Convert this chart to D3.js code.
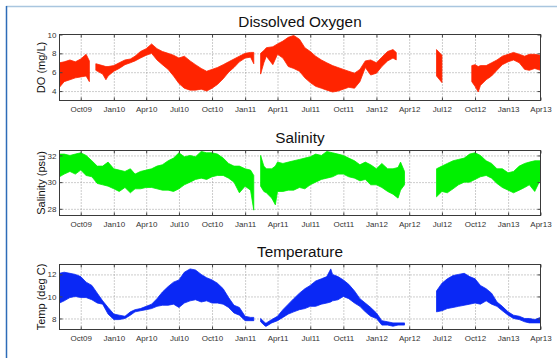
<!DOCTYPE html>
<html>
<head>
<meta charset="utf-8">
<script src="https://cdn.jsdelivr.net/npm/d3@7"></script>
<style>
  body { margin: 0; background: #fff; }
  svg { display: block; }
  text { font-family: "Liberation Sans", Arial, Helvetica, sans-serif; }
</style>
</head>
<body>
<svg id="chart" width="557" height="358"></svg>
<script>
// x ticks (shared by all three panels)
const tickDates = ['2009-10-01', '2010-01-01', '2010-04-01', '2010-07-01', '2010-10-01', '2011-01-01',
  '2011-04-01', '2011-07-01', '2011-10-01', '2012-01-01', '2012-04-01', '2012-07-01',
  '2012-10-01', '2013-01-01', '2013-04-01'];
const tickLabels = ['Oct09', 'Jan10', 'Apr10', 'Jul10', 'Oct10', 'Jan11', 'Apr11', 'Jul11',
  'Oct11', 'Jan12', 'Apr12', 'Jul12', 'Oct12', 'Jan13', 'Apr13'];

// [date, low, high] envelopes, null = no data
const oxygen = [
  ['2009-08-03', 4.4, 7.0], ['2009-08-16', 5.0, 7.1], ['2009-09-01', 5.2, 7.3], ['2009-09-16', 5.4, 7.1],
  ['2009-10-01', 5.5, 7.4], ['2009-10-16', 5.6, 7.9], ['2009-10-25', 5.0, 7.2], ['2009-11-01', null, null],
  ['2009-11-12', 6.2, 6.9], ['2009-12-01', 5.8, 6.7], ['2009-12-10', 5.2, 6.6], ['2009-12-16', 5.6, 6.6],
  ['2010-01-01', 6.1, 6.7], ['2010-01-16', 6.4, 7.0], ['2010-02-01', 6.8, 7.3], ['2010-02-16', 7.0, 7.4],
  ['2010-03-01', 7.2, 7.7], ['2010-03-16', 7.5, 8.2], ['2010-04-01', 7.8, 8.5], ['2010-04-16', 8.0, 9.0],
  ['2010-05-01', 7.3, 8.5], ['2010-05-16', 6.8, 8.2], ['2010-06-01', 6.3, 8.0], ['2010-06-16', 5.6, 7.8],
  ['2010-07-01', 4.8, 7.5], ['2010-07-16', 4.3, 7.7], ['2010-08-01', 4.1, 7.2], ['2010-08-16', 4.1, 6.8],
  ['2010-09-01', 4.2, 6.4], ['2010-09-16', 4.0, 6.1], ['2010-10-01', 4.3, 6.3], ['2010-10-16', 4.7, 6.5],
  ['2010-11-01', 5.3, 6.8], ['2010-11-16', 6.0, 7.1], ['2010-12-01', 6.5, 7.4], ['2010-12-16', 7.1, 7.7],
  ['2011-01-01', 7.5, 8.0], ['2011-01-16', 7.6, 8.1], ['2011-01-25', 6.9, 8.1], ['2011-02-03', null, null],
  ['2011-02-13', 5.8, 8.0], ['2011-02-22', 7.0, 8.3], ['2011-03-01', 7.7, 8.6], ['2011-03-19', 6.8, 8.7],
  ['2011-04-01', 7.9, 9.0], ['2011-04-16', 7.5, 9.3], ['2011-05-01', 6.6, 9.7], ['2011-05-16', 6.4, 9.9],
  ['2011-06-01', 6.1, 9.5], ['2011-06-16', 5.4, 8.6], ['2011-07-01', 4.9, 8.2], ['2011-07-16', 4.5, 7.7],
  ['2011-08-01', 4.3, 7.3], ['2011-08-16', 4.1, 7.0], ['2011-09-01', 3.9, 6.7], ['2011-09-16', 4.0, 6.5],
  ['2011-10-01', 4.2, 6.3], ['2011-10-16', 4.4, 6.1], ['2011-11-01', 4.3, 5.9], ['2011-11-16', 5.0, 6.3],
  ['2011-12-01', 6.5, 7.2], ['2011-12-16', 5.7, 7.3], ['2012-01-01', 5.9, 7.0], ['2012-01-16', 6.6, 7.6],
  ['2012-02-01', 7.2, 8.2], ['2012-02-16', 7.5, 8.4], ['2012-02-25', 7.3, 8.1], ['2012-03-10', null, null],
  ['2012-06-16', 5.6, 8.4], ['2012-07-01', 4.9, 7.8], ['2012-07-10', null, null],
  ['2012-09-22', 5.0, 6.7], ['2012-10-01', 4.5, 6.8], ['2012-10-10', 3.9, 6.6], ['2012-10-16', 4.6, 6.7],
  ['2012-11-01', 5.2, 6.7], ['2012-11-16', 5.6, 7.0], ['2012-12-01', 6.2, 7.3], ['2012-12-16', 6.8, 7.7],
  ['2013-01-01', 7.1, 7.9], ['2013-01-16', 7.3, 8.1], ['2013-02-01', 7.0, 7.9], ['2013-02-16', 6.3, 7.7],
  ['2013-03-01', 6.2, 7.9], ['2013-03-16', 6.4, 7.9], ['2013-04-01', 6.2, 7.8]
];

const salinity = [
  ['2009-08-03', 30.4, 32.1], ['2009-08-16', 30.6, 32.1], ['2009-09-01', 30.8, 32.0], ['2009-09-16', 30.6, 32.1],
  ['2009-10-01', 30.9, 32.2], ['2009-10-16', 30.5, 32.0], ['2009-11-01', 30.4, 31.6], ['2009-11-16', 29.9, 31.2],
  ['2009-12-01', 29.8, 31.2], ['2009-12-16', 29.7, 31.5], ['2010-01-01', 29.5, 31.0], ['2010-01-16', 29.3, 30.9],
  ['2010-02-01', 29.6, 30.8], ['2010-02-16', 29.2, 31.0], ['2010-03-01', 29.5, 30.6], ['2010-03-16', 29.5, 30.8],
  ['2010-04-01', 29.6, 30.9], ['2010-04-16', 29.6, 31.0], ['2010-05-01', 29.5, 31.2], ['2010-05-16', 29.4, 31.3],
  ['2010-06-01', 29.4, 31.6], ['2010-06-16', 29.3, 31.8], ['2010-07-01', 29.5, 32.2], ['2010-07-16', 29.8, 31.9],
  ['2010-08-01', 30.0, 32.0], ['2010-08-16', 30.2, 31.9], ['2010-09-01', 30.3, 32.3], ['2010-09-16', 30.2, 32.2],
  ['2010-10-01', 30.4, 32.2], ['2010-10-16', 30.5, 32.1], ['2010-11-01', 30.5, 31.8], ['2010-11-16', 30.3, 31.4],
  ['2010-12-01', 30.0, 31.2], ['2010-12-16', 29.2, 31.2], ['2011-01-01', 29.7, 31.0], ['2011-01-16', 29.4, 30.9],
  ['2011-01-25', 27.9, 30.5], ['2011-02-03', null, null],
  ['2011-02-13', 29.7, 32.0], ['2011-02-22', 29.3, 31.2], ['2011-03-01', 29.2, 31.0], ['2011-03-16', 28.8, 31.0],
  ['2011-03-26', 28.3, 31.2], ['2011-04-01', 29.3, 31.5], ['2011-04-16', 29.3, 31.4], ['2011-05-01', 29.4, 31.5],
  ['2011-05-16', 29.4, 31.6], ['2011-06-01', 29.6, 31.7], ['2011-06-16', 29.5, 31.8], ['2011-07-01', 29.8, 31.9],
  ['2011-07-16', 30.0, 32.1], ['2011-08-01', 30.2, 32.0], ['2011-08-16', 30.3, 32.3], ['2011-09-01', 30.4, 32.2],
  ['2011-09-16', 30.6, 32.1], ['2011-10-01', 30.6, 32.0], ['2011-10-16', 30.4, 31.8], ['2011-11-01', 30.3, 31.6],
  ['2011-11-16', 30.1, 31.3], ['2011-12-01', 30.2, 31.5], ['2011-12-16', 29.8, 31.3], ['2012-01-01', 29.8, 31.0],
  ['2012-01-16', 29.6, 31.4], ['2012-02-01', 29.3, 31.0], ['2012-02-16', 29.1, 31.0], ['2012-03-01', 28.8, 31.1],
  ['2012-03-08', 29.4, 31.5], ['2012-03-19', 29.8, 30.8], ['2012-04-01', null, null],
  ['2012-06-16', 28.9, 31.0], ['2012-07-01', 29.3, 31.2], ['2012-07-16', 29.2, 31.4], ['2012-08-01', 29.5, 31.6],
  ['2012-08-16', 29.8, 31.7], ['2012-09-01', 30.0, 31.8], ['2012-09-16', 30.0, 32.1], ['2012-10-01', 30.2, 32.2],
  ['2012-10-16', 30.4, 32.0], ['2012-11-01', 30.5, 31.6], ['2012-11-16', 30.3, 31.4], ['2012-12-01', 29.9, 31.0],
  ['2012-12-16', 29.6, 31.0], ['2013-01-01', 29.4, 30.7], ['2013-01-16', 29.2, 30.8], ['2013-02-01', 29.4, 31.2],
  ['2013-02-16', 29.6, 31.4], ['2013-03-01', 29.8, 31.5], ['2013-03-16', 29.3, 31.6], ['2013-04-01', 30.2, 31.6]
];

const temperature = [
  ['2009-08-03', 9.4, 12.1], ['2009-08-16', 9.6, 12.2], ['2009-09-01', 9.9, 12.1], ['2009-09-16', 10.0, 12.0],
  ['2009-10-01', 9.9, 11.8], ['2009-10-16', 9.9, 11.3], ['2009-11-01', 9.7, 11.0], ['2009-11-16', 9.4, 10.3],
  ['2009-12-01', 9.3, 9.6], ['2009-12-16', 8.4, 9.0], ['2010-01-01', 7.9, 8.4], ['2010-01-16', 7.9, 8.3],
  ['2010-02-01', 8.0, 8.2], ['2010-02-16', 8.3, 8.6], ['2010-03-01', 8.6, 8.8], ['2010-03-16', 8.7, 8.9],
  ['2010-04-01', 8.8, 9.1], ['2010-04-16', 8.9, 9.3], ['2010-05-01', 9.1, 9.8], ['2010-05-16', 9.2, 10.4],
  ['2010-06-01', 9.2, 10.9], ['2010-06-16', 9.3, 11.3], ['2010-07-01', 9.0, 11.5], ['2010-07-16', 9.4, 12.2],
  ['2010-08-01', 9.6, 12.5], ['2010-08-16', 9.7, 12.4], ['2010-09-01', 9.5, 12.0], ['2010-09-16', 9.6, 11.7],
  ['2010-10-01', 9.4, 11.5], ['2010-10-16', 9.4, 11.2], ['2010-11-01', 9.3, 10.7], ['2010-11-16', 9.0, 9.9],
  ['2010-12-01', 8.5, 9.2], ['2010-12-16', 8.3, 9.0], ['2011-01-01', 7.8, 8.2], ['2011-01-16', 7.8, 8.1],
  ['2011-01-25', 7.8, 8.1], ['2011-02-03', null, null],
  ['2011-02-13', 7.7, 8.0], ['2011-02-26', 7.3, 7.6], ['2011-03-01', 7.3, 7.6], ['2011-03-16', 7.6, 7.9],
  ['2011-04-01', 7.8, 8.2], ['2011-04-16', 8.1, 8.8], ['2011-05-01', 8.4, 9.3], ['2011-05-16', 8.6, 9.8],
  ['2011-06-01', 8.8, 10.3], ['2011-06-16', 8.9, 10.7], ['2011-07-01', 9.1, 11.0], ['2011-07-16', 9.1, 11.4],
  ['2011-08-01', 9.3, 11.6], ['2011-08-16', 9.4, 11.8], ['2011-08-27', 9.5, 12.5], ['2011-09-01', 9.6, 12.0],
  ['2011-09-16', 9.7, 11.8], ['2011-10-01', 10.0, 11.5], ['2011-10-16', 9.8, 11.1], ['2011-11-01', 9.4, 10.5],
  ['2011-11-16', 9.1, 9.8], ['2011-12-01', 8.6, 9.4], ['2011-12-16', 8.2, 9.0], ['2012-01-01', 8.0, 8.5],
  ['2012-01-16', 7.4, 7.8], ['2012-02-01', 7.4, 7.7], ['2012-02-16', 7.3, 7.6], ['2012-03-01', 7.4, 7.6],
  ['2012-03-19', 7.4, 7.6], ['2012-04-01', null, null],
  ['2012-06-16', 8.6, 10.5], ['2012-07-01', 8.7, 11.2], ['2012-07-16', 8.9, 11.6], ['2012-08-01', 9.0, 11.9],
  ['2012-08-16', 9.1, 12.0], ['2012-09-01', 9.2, 12.1], ['2012-09-16', 9.3, 11.8], ['2012-10-01', 9.4, 11.6],
  ['2012-10-16', 9.3, 11.0], ['2012-11-01', 9.6, 10.7], ['2012-11-16', 9.3, 10.3], ['2012-12-01', 9.1, 9.5],
  ['2012-12-16', 8.7, 9.1], ['2013-01-01', 8.3, 8.6], ['2013-01-16', 8.0, 8.3], ['2013-02-01', 7.9, 8.2],
  ['2013-02-16', 7.7, 8.0], ['2013-03-01', 7.6, 8.0], ['2013-03-16', 7.6, 7.9], ['2013-04-01', 7.6, 8.1]
];

const parse = d3.timeParse('%Y-%m-%d');
const svg = d3.select('#chart');

// page frame
svg.append('line').attr('x1', 6).attr('x2', 557).attr('y1', 6.5).attr('y2', 6.5)
  .attr('stroke', '#a9c6df').attr('stroke-width', 1.5);
svg.append('line').attr('x1', 6.5).attr('x2', 6.5).attr('y1', 6).attr('y2', 358)
  .attr('stroke', '#2d6cb8').attr('stroke-width', 1.5);

const left = 59.5, right = 540.5;
const x = d3.scaleTime()
  .domain([parse('2009-08-03'), parse('2013-04-01')])
  .range([left, right]);
const ticks = tickDates.map(parse);

const panels = [
  { title: 'Dissolved Oxygen', label: 'DO (mg/L)', rows: oxygen, color: '#ff2400',
    domain: [3, 10], yticks: [4, 6, 8, 10], top: 34.5, bottom: 100.5 },
  { title: 'Salinity', label: 'Salinity (psu)', rows: salinity, color: '#00f000',
    domain: [27.5, 32.37], yticks: [28, 30, 32], top: 150.5, bottom: 215.5 },
  { title: 'Temperature', label: 'Temp (deg C)', rows: temperature, color: '#0a28f5',
    domain: [7, 12.9], yticks: [8, 10, 12], top: 264.5, bottom: 329.5 }
];

panels.forEach(function (p, i) {
  let height = p.bottom - p.top;
  let y = d3.scaleLinear().domain(p.domain).range([p.bottom, p.top]);
  let g = svg.append('g');

  // dotted grid
  g.append('g')
    .attr('transform', `translate(0, ${p.bottom})`)
    .call(d3.axisBottom(x).tickValues(ticks.slice(0, -1)).tickSize(-height).tickFormat(''))
    .call(a => a.select('.domain').remove())
    .selectAll('line').attr('stroke', '#9a9a9a').attr('stroke-dasharray', '1,2');
  g.append('g')
    .attr('transform', `translate(${left}, 0)`)
    .call(d3.axisLeft(y).tickValues(p.yticks.filter(v => v < p.domain[1] - 0.05)).tickSize(-(right - left)).tickFormat(''))
    .call(a => a.select('.domain').remove())
    .selectAll('line').attr('stroke', '#9a9a9a').attr('stroke-dasharray', '1,2');

  // data band
  g.append('clipPath').attr('id', 'clip' + i)
    .append('rect').attr('x', left).attr('y', p.top).attr('width', right - left).attr('height', height);

  let area = d3.area()
    .defined(d => d[1] != null)
    .x(d => x(parse(d[0])))
    .y0(d => y(d[1]))
    .y1(d => y(d[2]));

  g.append('path')
    .datum(p.rows)
    .attr('clip-path', `url(#clip${i})`)
    .attr('fill', p.color)
    .attr('stroke', p.color)
    .attr('stroke-width', 0.8)
    .attr('stroke-linejoin', 'round')
    .attr('d', area);

  // axes with inward ticks
  let xb = g.append('g')
    .attr('transform', `translate(0, ${p.bottom})`)
    .call(d3.axisBottom(x).tickValues(ticks).tickSizeInner(-3).tickSizeOuter(0).tickPadding(6)
      .tickFormat((d, k) => tickLabels[k]));
  xb.select('.domain').remove();
  xb.selectAll('text').attr('font-size', 8).attr('fill', '#333').attr('font-family', null);
  xb.selectAll('line').attr('stroke', '#444');

  let xt = g.append('g')
    .attr('transform', `translate(0, ${p.top})`)
    .call(d3.axisTop(x).tickValues(ticks).tickSizeInner(-3).tickSizeOuter(0).tickFormat(''));
  xt.select('.domain').remove();
  xt.selectAll('line').attr('stroke', '#444');

  let yl = g.append('g')
    .attr('transform', `translate(${left}, 0)`)
    .call(d3.axisLeft(y).tickValues(p.yticks).tickSizeInner(-3).tickSizeOuter(0).tickPadding(3)
      .tickFormat(d3.format('d')));
  yl.select('.domain').remove();
  yl.selectAll('text').attr('font-size', 8).attr('fill', '#333').attr('font-family', null);
  yl.selectAll('line').attr('stroke', '#444');

  let yr = g.append('g')
    .attr('transform', `translate(${right}, 0)`)
    .call(d3.axisRight(y).tickValues(p.yticks).tickSizeInner(-3).tickSizeOuter(0).tickFormat(''));
  yr.select('.domain').remove();
  yr.selectAll('line').attr('stroke', '#444');

  // box
  g.append('rect')
    .attr('x', left).attr('y', p.top)
    .attr('width', right - left).attr('height', height)
    .attr('fill', 'none').attr('stroke', '#3a3a3a').attr('stroke-width', 1);

  // title and y label
  g.append('text')
    .attr('x', (left + right) / 2).attr('y', p.top - 7.3)
    .attr('text-anchor', 'middle')
    .attr('font-size', 15.3)
    .attr('fill', '#111')
    .text(p.title);

  g.append('text')
    .attr('transform', `translate(45, ${(p.top + p.bottom) / 2}) rotate(-90)`)
    .attr('text-anchor', 'middle')
    .attr('font-size', 11)
    .attr('fill', '#111')
    .text(p.label);
});
</script>
</body>
</html>
